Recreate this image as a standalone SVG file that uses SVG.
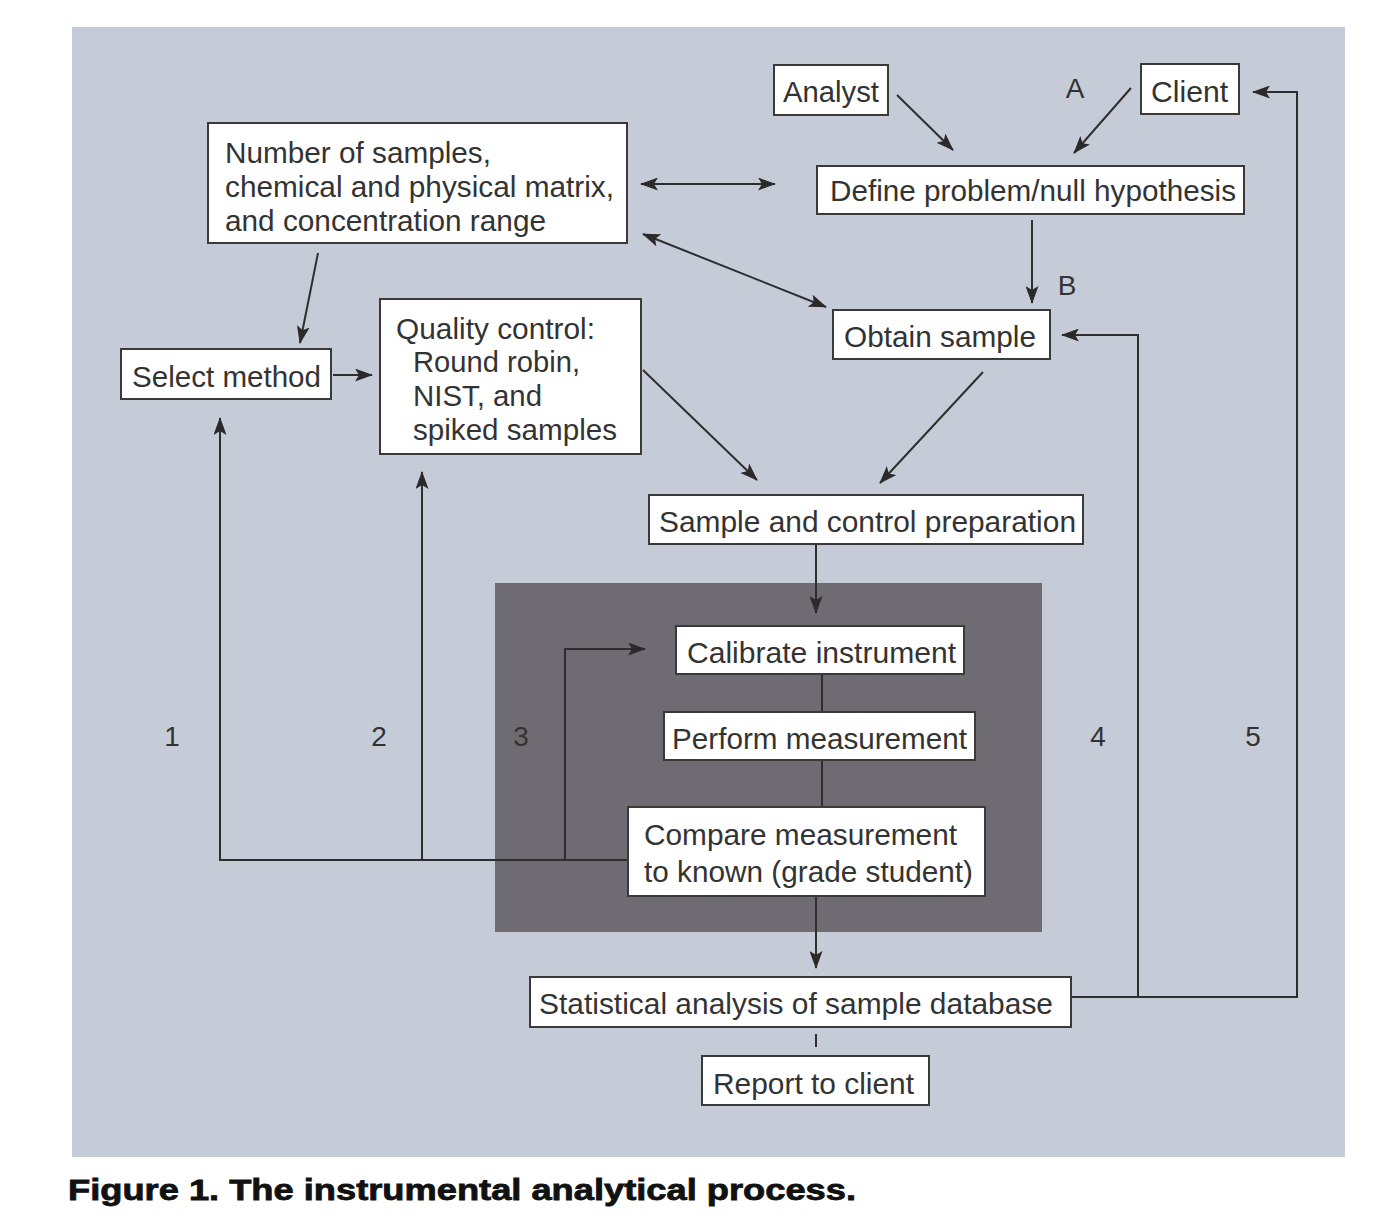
<svg xmlns="http://www.w3.org/2000/svg" width="1373" height="1216" viewBox="0 0 1373 1216">
<style>
.box{fill:#ffffff;stroke:#3a3a3a;stroke-width:2}
.t{font-family:"Liberation Sans",Arial,sans-serif;font-size:30px;fill:#333333}
.n{font-family:"Liberation Sans",Arial,sans-serif;font-size:28px;fill:#333333}
.c{fill:none;stroke:#2e2e2e;stroke-width:2}
.cap{font-family:"Liberation Sans",Arial,sans-serif;font-size:29px;font-weight:900;fill:#111111;stroke:#111111;stroke-width:0.8}
</style>
<defs>
<marker id="ah" markerUnits="userSpaceOnUse" markerWidth="19" markerHeight="13" refX="17" refY="6.5" orient="auto-start-reverse">
<path d="M0,0 L18,6.5 L0,13 L4,6.5 z" fill="#2a2a2a"/>
</marker>
</defs>
<rect x="0" y="0" width="1373" height="1216" fill="#ffffff"/>
<rect x="72" y="27" width="1273" height="1130" fill="#c5ccd8"/>
<rect x="495" y="583" width="547" height="349" fill="#6f6b72"/>

<g id="connectors">
<line class="c" x1="897" y1="95" x2="953" y2="150" marker-end="url(#ah)"/>
<line class="c" x1="1131" y1="88" x2="1074" y2="153" marker-end="url(#ah)"/>
<line class="c" x1="641" y1="184" x2="775" y2="184" marker-start="url(#ah)" marker-end="url(#ah)"/>
<line class="c" x1="643" y1="234" x2="826" y2="307" marker-start="url(#ah)" marker-end="url(#ah)"/>
<line class="c" x1="318" y1="253" x2="300" y2="343" marker-end="url(#ah)"/>
<line class="c" x1="333" y1="375" x2="372" y2="375" marker-end="url(#ah)"/>
<line class="c" x1="1032" y1="220" x2="1032" y2="303" marker-end="url(#ah)"/>
<line class="c" x1="643" y1="370" x2="757" y2="480" marker-end="url(#ah)"/>
<line class="c" x1="983" y1="372" x2="880" y2="483" marker-end="url(#ah)"/>
<line class="c" x1="816" y1="545" x2="816" y2="613" marker-end="url(#ah)"/>
<line class="c" x1="822" y1="674" x2="822" y2="712"/>
<line class="c" x1="822" y1="760" x2="822" y2="807"/>
<line class="c" x1="816" y1="896" x2="816" y2="968" marker-end="url(#ah)"/>
<line class="c" x1="816" y1="1034" x2="816" y2="1047"/>
<path class="c" d="M628,860 H220 V418" marker-end="url(#ah)"/>
<path class="c" d="M422,860 V472" marker-end="url(#ah)"/>
<path class="c" d="M565,860 V649 H645" marker-end="url(#ah)"/>
<path class="c" d="M1071,997 H1297 V92 H1253" marker-end="url(#ah)"/>
<path class="c" d="M1138,997 V335 H1062" marker-end="url(#ah)"/>
</g>

<g id="analyst"><rect class="box" x="774" y="65" width="114" height="50"/><text class="t" x="783" y="102" textLength="96" lengthAdjust="spacingAndGlyphs">Analyst</text></g>
<g id="client"><rect class="box" x="1141" y="64" width="98" height="50"/><text class="t" x="1151" y="102" textLength="77" lengthAdjust="spacingAndGlyphs">Client</text></g>
<g id="define"><rect class="box" x="817" y="166" width="427" height="48"/><text class="t" x="830" y="201" textLength="406" lengthAdjust="spacingAndGlyphs">Define problem/null hypothesis</text></g>
<g id="number"><rect class="box" x="208" y="123" width="419" height="120"/>
<text class="t" x="225" y="163" textLength="266" lengthAdjust="spacingAndGlyphs">Number of samples,</text>
<text class="t" x="225" y="197" textLength="389" lengthAdjust="spacingAndGlyphs">chemical and physical matrix,</text>
<text class="t" x="225" y="231" textLength="321" lengthAdjust="spacingAndGlyphs">and concentration range</text></g>
<g id="select"><rect class="box" x="121" y="349" width="210" height="50"/><text class="t" x="132" y="387" textLength="189" lengthAdjust="spacingAndGlyphs">Select method</text></g>
<g id="qc"><rect class="box" x="380" y="299" width="261" height="155"/>
<text class="t" x="396" y="339" textLength="199" lengthAdjust="spacingAndGlyphs">Quality control:</text>
<text class="t" x="413" y="372" textLength="167" lengthAdjust="spacingAndGlyphs">Round robin,</text>
<text class="t" x="413" y="406" textLength="129" lengthAdjust="spacingAndGlyphs">NIST, and</text>
<text class="t" x="413" y="440" textLength="204" lengthAdjust="spacingAndGlyphs">spiked samples</text></g>
<g id="obtain"><rect class="box" x="833" y="310" width="217" height="49"/><text class="t" x="844" y="347" textLength="192" lengthAdjust="spacingAndGlyphs">Obtain sample</text></g>
<g id="prep"><rect class="box" x="649" y="495" width="434" height="49"/><text class="t" x="659" y="532" textLength="417" lengthAdjust="spacingAndGlyphs">Sample and control preparation</text></g>
<g id="calibrate"><rect class="box" x="676" y="626" width="288" height="48"/><text class="t" x="687" y="663" textLength="269" lengthAdjust="spacingAndGlyphs">Calibrate instrument</text></g>
<g id="perform"><rect class="box" x="664" y="712" width="311" height="48"/><text class="t" x="672" y="749" textLength="295" lengthAdjust="spacingAndGlyphs">Perform measurement</text></g>
<g id="compare"><rect class="box" x="628" y="807" width="357" height="89"/>
<text class="t" x="644" y="845" textLength="313" lengthAdjust="spacingAndGlyphs">Compare measurement</text>
<text class="t" x="644" y="882" textLength="329" lengthAdjust="spacingAndGlyphs">to known (grade student)</text></g>
<g id="statistical"><rect class="box" x="530" y="977" width="541" height="50"/><text class="t" x="539" y="1014" textLength="514" lengthAdjust="spacingAndGlyphs">Statistical analysis of sample database</text></g>
<g id="report"><rect class="box" x="702" y="1056" width="227" height="49"/><text class="t" x="713" y="1094" textLength="201" lengthAdjust="spacingAndGlyphs">Report to client</text></g>

<g id="labels">
<text class="n" x="1075" y="98" text-anchor="middle">A</text>
<text class="n" x="1067" y="295" text-anchor="middle">B</text>
<text class="n" x="172" y="746" text-anchor="middle">1</text>
<text class="n" x="379" y="746" text-anchor="middle">2</text>
<text class="n" x="521" y="746" text-anchor="middle">3</text>
<text class="n" x="1098" y="746" text-anchor="middle">4</text>
<text class="n" x="1253" y="746" text-anchor="middle">5</text>
</g>
<text class="cap" x="68" y="1200" textLength="788" lengthAdjust="spacingAndGlyphs">Figure 1. The instrumental analytical process.</text>
</svg>
